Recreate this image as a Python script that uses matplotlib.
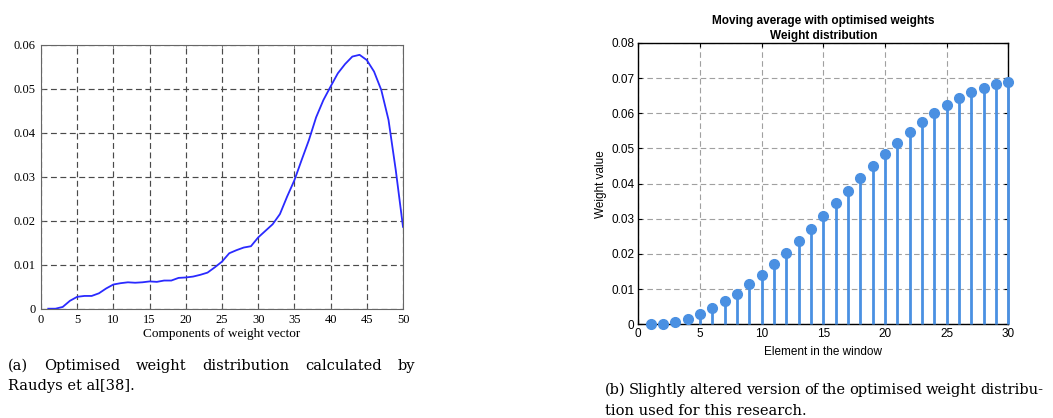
import matplotlib
matplotlib.use("Agg")
import matplotlib.pyplot as plt
import numpy as np

# ---- data ----
left_x = list(range(1, 51))
left_w = [0.0000, 0.0000, 0.0004, 0.0018, 0.0027, 0.0029, 0.0029, 0.0035, 0.0046, 0.0055,
          0.0058, 0.0060, 0.0059, 0.0060, 0.0062, 0.0061, 0.0064, 0.0064, 0.0070, 0.0071,
          0.0073, 0.0077, 0.0082, 0.0094, 0.0107, 0.0126, 0.0133, 0.0139, 0.0142, 0.0162,
          0.0177, 0.0192, 0.0215, 0.0255, 0.0292, 0.0338, 0.0383, 0.0435, 0.0474, 0.0505,
          0.0535, 0.0556, 0.0573, 0.0577, 0.0565, 0.0539, 0.0497, 0.0429, 0.0315, 0.0186]

right_x = list(range(1, 31))
right_w = [0.0000, 0.0002, 0.0007, 0.0015, 0.0029, 0.0046, 0.0065, 0.0087, 0.0114, 0.0141,
           0.0172, 0.0204, 0.0238, 0.0272, 0.0308, 0.0344, 0.0380, 0.0416, 0.0451, 0.0484,
           0.0516, 0.0547, 0.0575, 0.0601, 0.0624, 0.0644, 0.0660, 0.0673, 0.0683, 0.0689]

left_xticks = [0, 5, 10, 15, 20, 25, 30, 35, 40, 45, 50]
left_yticks = [0, 0.01, 0.02, 0.03, 0.04, 0.05, 0.06]
left_yticklabels = ["0", "0.01", "0.02", "0.03", "0.04", "0.05", "0.06"]
right_xticks = [0, 5, 10, 15, 20, 25, 30]
right_yticks = [0, 0.01, 0.02, 0.03, 0.04, 0.05, 0.06, 0.07, 0.08]
right_yticklabels = ["0", "0.01", "0.02", "0.03", "0.04", "0.05", "0.06", "0.07", "0.08"]

W, H = 1053, 418
fig = plt.figure(figsize=(W / 100, H / 100), dpi=100)

def box(l, t, r, b):
    return [l / W, 1 - b / H, (r - l) / W, (b - t) / H]

# ---- left axes ----
serif = "Liberation Serif"
ax1 = fig.add_axes(box(41, 44.7, 403, 308.7))
ax1.plot(left_x, left_w, color="#2a2aff", lw=1.3)
ax1.set_xlim(0, 50)
ax1.set_ylim(0, 0.06)
ax1.set_xticks(left_xticks)
ax1.set_xticklabels([str(t) for t in left_xticks], fontfamily=serif, fontsize=9)
ax1.set_yticks(left_yticks)
ax1.set_yticklabels(left_yticklabels, fontfamily=serif, fontsize=9)
ax1.tick_params(direction="in", length=2, width=0.6, color="#666666", top=True, right=True, pad=4)
ax1.grid(True, ls=(0, (5, 3)), color="#4a4a4a", lw=0.85)
for s in ax1.spines.values():
    s.set_color("#666666")
    s.set_linewidth(0.8)
ax1.set_xlabel("Components of weight vector", fontfamily=serif, fontsize=9.5, labelpad=1)

# ---- right axes ----
sans = "Liberation Sans"
ax2 = fig.add_axes(box(638.3, 43, 1008.3, 324.3))
ml, sl, bl = ax2.stem(right_x, right_w, basefmt=" ")
plt.setp(sl, color="#4a90e2", lw=2.0, clip_on=False, zorder=3)
plt.setp(ml, color="#4a90e2", markersize=7, clip_on=False, zorder=4)
ax2.set_xlim(0, 30)
ax2.set_ylim(0, 0.08)
ax2.set_xticks(right_xticks)
ax2.set_xticklabels([str(t) for t in right_xticks], fontfamily=sans, fontsize=8.5)
ax2.set_yticks(right_yticks)
ax2.set_yticklabels(right_yticklabels, fontfamily=sans, fontsize=8.5)
ax2.tick_params(direction="in", length=3, width=0.8, top=True, right=True, pad=3)
ax2.grid(True, ls=(0, (5, 3)), color="#a0a0a0", lw=0.8)
ax2.set_axisbelow(True)
for s in ax2.spines.values():
    s.set_color("black")
    s.set_linewidth(1.0)
ax2.set_xlabel("Element in the window", fontfamily=sans, fontsize=8.5, labelpad=4)
ax2.set_ylabel("Weight value", fontfamily=sans, fontsize=8.5, labelpad=3)
ax2.set_title("Moving average with optimised weights\nWeight distribution",
              fontfamily=sans, fontsize=8.5, fontweight="bold", pad=3, linespacing=1.35)

# ---- captions (first lines justified) ----
renderer = fig.canvas.get_renderer()
capfont = "DejaVu Serif"
cap_fs = 10.5

def justified(words, x0, x1, y):
    texts = [fig.text(0, 1 - y / H, w, fontfamily=capfont, fontsize=cap_fs, va="center",
                      ha="left") for w in words]
    widths = [t.get_window_extent(renderer).width for t in texts]
    gap = (x1 - x0 - sum(widths)) / (len(words) - 1)
    x = x0
    for t, wd in zip(texts, widths):
        t.set_x(x / W)
        x += wd + gap

justified("(a) Optimised weight distribution calculated by".split(), 8, 415, 366)
fig.text(8 / W, 1 - 386 / H, "Raudys et al[38].", fontfamily=capfont, fontsize=cap_fs, va="center")
justified("(b) Slightly altered version of the optimised weight distribu-".split(), 605, 1043, 390)
fig.text(605 / W, 1 - 411 / H, "tion used for this research.", fontfamily=capfont, fontsize=cap_fs,
         va="center")

fig.savefig("out.png", dpi=100)
